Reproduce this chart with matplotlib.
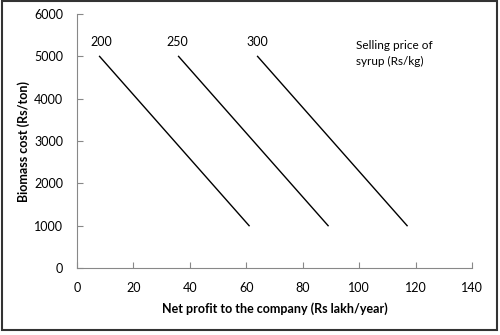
import matplotlib.pyplot as plt
from matplotlib.patches import Rectangle

plt.rcParams['font.family'] = ['Lato', 'DejaVu Sans']

# biomass cost (Rs/ton) at the two ends of each line
cost = [5000, 1000]
# net profit (Rs lakh/year) for each selling price of syrup
profit_200 = [8, 61]
profit_250 = [36, 89]
profit_300 = [64, 117]
prices = ['200', '250', '300']
label_x = [8.5, 35.5, 64]

fig = plt.figure(figsize=(5, 3.35), dpi=100)
ax = fig.add_axes([0.154, 0.2, 0.79, 0.758])

for prof in (profit_200, profit_250, profit_300):
    ax.plot(prof, cost, color='black', lw=1.0)

for p, x in zip(prices, label_x):
    ax.text(x, 5330, p, fontsize=9, ha='center', va='center')
ax.text(99, 5070, 'Selling price of\nsyrup (Rs/kg)', fontsize=8.5, ha='left', va='center',
        linespacing=1.55)

ax.set_xlim(0, 140)
ax.set_ylim(0, 6000)
ax.set_xticks(range(0, 141, 20))
ax.set_yticks(range(0, 6001, 1000))
for s in ('top', 'right'):
    ax.spines[s].set_visible(False)
for s in ('left', 'bottom'):
    ax.spines[s].set_color('#888888')
ax.tick_params(direction='in', length=4, color='#888888', labelsize=9, pad=10)
ax.set_xlabel('Net profit to the company (Rs lakh/year)', fontsize=9, fontweight='bold',
              labelpad=6)
ax.set_ylabel('Biomass cost (Rs/ton)', fontsize=9, fontweight='bold', labelpad=3)

# border round the whole figure
fig.patches.append(Rectangle((0.003, 0.015), 0.991, 0.981, transform=fig.transFigure,
                             fill=False, ec='#333333', lw=1.5))

fig.savefig('out.png', dpi=100)
